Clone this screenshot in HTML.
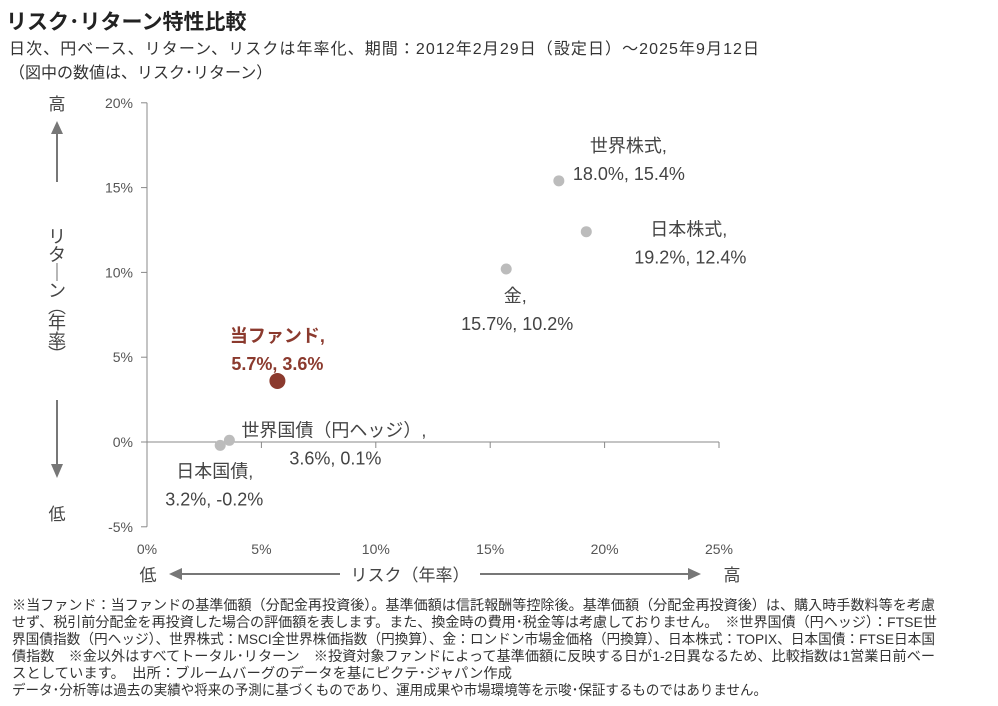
<!DOCTYPE html>
<html><head><meta charset="utf-8"><style>
body{margin:0;background:#fff}
svg{display:block;font-family:"Liberation Sans","Noto Sans CJK JP",sans-serif}
</style></head><body>
<svg width="998" height="706" viewBox="0 0 998 706">
<text x="6" y="29" font-size="21" font-weight="bold" fill="#222">リスク･リターン特性比較</text>
<text x="9" y="54" font-size="16" fill="#333" textLength="750">日次、円ベース、リターン、リスクは年率化、期間：2012年2月29日（設定日）～2025年9月12日</text>
<text x="9" y="78" font-size="16" fill="#333">（図中の数値は、リスク･リターン）</text>

<g id="axes"></g>
<g id="marks"></g>

<g fill="#444" font-size="17">
<text x="57" y="110" text-anchor="middle">高</text>
<line x1="57" y1="182" x2="57" y2="132" stroke="#777" stroke-width="2"/>
<polygon points="51,134 63,134 57,121" fill="#777"/>
<g text-anchor="middle" font-size="18">
<text x="57" y="243">リ</text>
<text x="57" y="261">タ</text>
<text x="57" y="279">｜</text>
<text x="57" y="297">ン</text>
<text x="57" y="313">︵</text>
<text x="57" y="329">年</text>
<text x="57" y="347">率</text>
<text x="57" y="361">︶</text>
</g>
<line x1="57" y1="400" x2="57" y2="466" stroke="#777" stroke-width="2"/>
<polygon points="51,464 63,464 57,478" fill="#777"/>
<text x="57" y="520" text-anchor="middle">低</text>
</g>
<g fill="#444" font-size="17">
<text x="148" y="581" text-anchor="middle">低</text>
<line x1="180" y1="574" x2="690" y2="574" stroke="#777" stroke-width="2"/>
<polygon points="182,568 182,580 169,574" fill="#777"/>
<polygon points="688,568 688,580 701,574" fill="#777"/>
<rect x="340" y="562" width="140" height="24" fill="#fff"/>
<text x="410" y="581" text-anchor="middle">リスク（年率）</text>
<text x="732" y="581" text-anchor="middle">高</text>
</g>

<g fill="#333" font-size="14">
<text x="12" y="610" textLength="923" lengthAdjust="spacingAndGlyphs">※当ファンド：当ファンドの基準価額（分配金再投資後）。基準価額は信託報酬等控除後。基準価額（分配金再投資後）は、購入時手数料等を考慮</text>
<text x="12" y="627" textLength="925" lengthAdjust="spacingAndGlyphs">せず、税引前分配金を再投資した場合の評価額を表します。また、換金時の費用･税金等は考慮しておりません。　※世界国債（円ヘッジ）：FTSE世</text>
<text x="12" y="644" textLength="923" lengthAdjust="spacingAndGlyphs">界国債指数（円ヘッジ）、世界株式：MSCI全世界株価指数（円換算）、金：ロンドン市場金価格（円換算）、日本株式：TOPIX、日本国債：FTSE日本国</text>
<text x="12" y="661" textLength="923" lengthAdjust="spacingAndGlyphs">債指数　※金以外はすべてトータル･リターン　※投資対象ファンドによって基準価額に反映する日が1-2日異なるため、比較指数は1営業日前ベー</text>
<text x="12" y="678" textLength="500" lengthAdjust="spacingAndGlyphs">スとしています。　出所：ブルームバーグのデータを基にピクテ･ジャパン作成</text>
<text x="12" y="695" textLength="755" lengthAdjust="spacingAndGlyphs">データ･分析等は過去の実績や将来の予測に基づくものであり、運用成果や市場環境等を示唆･保証するものではありません。</text>
</g>

<script>
const names = ["世界株式", "日本株式", "金", "当ファンド", "世界国債（円ヘッジ）", "日本国債"];
const risk = [18.0, 19.2, 15.7, 5.7, 3.6, 3.2];
const ret = [15.4, 12.4, 10.2, 3.6, 0.1, -0.2];
const xTicks = [0, 5, 10, 15, 20, 25];
const yTicks = [-5, 0, 5, 10, 15, 20];
const X = v => 147 + v * 22.88;
const Y = v => 442 - v * 16.96;
const NS = "http://www.w3.org/2000/svg";
function mk(tag, attrs, parent, txt){const e=document.createElementNS(NS,tag);for(const k in attrs)e.setAttribute(k,attrs[k]);if(txt!==undefined)e.textContent=txt;parent.appendChild(e);return e;}
const ax = document.getElementById('axes');
let l = mk('line',{x1:X(0),y1:Y(20),x2:X(0),y2:Y(-5),stroke:'#888','stroke-width':1},ax);


l = mk('line',{x1:X(0),y1:Y(0),x2:X(25),y2:Y(0),stroke:'#888','stroke-width':1},ax);


yTicks.forEach(t=>{
  mk('line',{x1:X(0)-6,y1:Y(t),x2:X(0),y2:Y(t),stroke:'#888'},ax);
  const tx = mk('text',{x:133,y:Y(t)+5,'text-anchor':'end','font-size':14,fill:'#555'},ax,t+'%');
  
  
});
xTicks.forEach(t=>{
  mk('line',{x1:X(t),y1:Y(0),x2:X(t),y2:Y(0)+6,stroke:'#888'},ax);
  const tx = mk('text',{x:X(t),y:554,'text-anchor':'middle','font-size':14,fill:'#555'},ax,t+'%');
  
  
});
// label offsets relative to point: [nameDx, nameDy, nameAnchor, valueDx, valueDy, valueAnchor]
const off = [[31,-29,'start',14,-1,'start'],[64,4,'start',48,32,'start'],[9,33,'middle',11,61,'middle'],[0,-39,'middle',0,-11,'middle'],[12,-4,'start',60,24,'start'],[-44,32,'start',-55,60,'start']];
const mg = document.getElementById('marks');
names.forEach((n,i)=>{
  const fund = i===3;
  const cx = X(risk[i]), cy = Y(ret[i]);
  const c = mk('circle',{cx:cx,cy:cy,r:fund?8:5.5,fill:fund?'#8b3a2e':'#bcbcbc'},mg);
  
  
  const o = off[i];
  const col = fund?'#8b3a2e':'#444';
  const t1 = mk('text',{x:cx+o[0],y:cy+o[1],'text-anchor':o[2],'font-size':18,fill:col,'font-weight':fund?'bold':'normal'},mg,n+',');
  
  
  const t2 = mk('text',{x:cx+o[3],y:cy+o[4],'text-anchor':o[5],'font-size':18,fill:col,'font-weight':fund?'bold':'normal'},mg,risk[i].toFixed(1)+'%, '+ret[i].toFixed(1)+'%');
  
  
});
</script>
</svg>
</body></html>
